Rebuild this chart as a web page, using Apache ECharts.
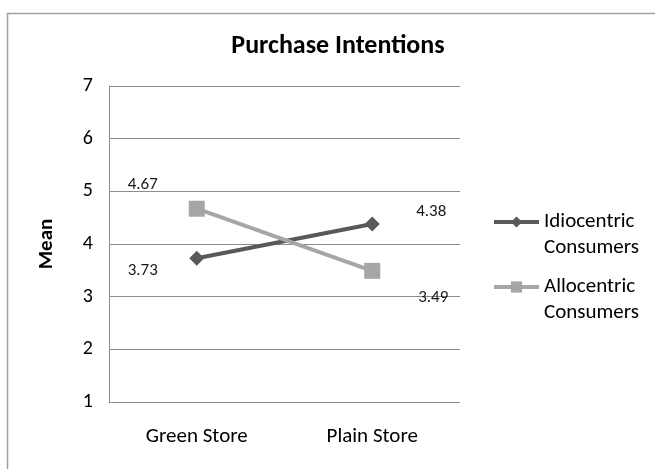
<!DOCTYPE html>
<html><head><meta charset="utf-8">
<script src="https://cdn.jsdelivr.net/npm/echarts@6/dist/echarts.min.js"></script>
<style>html,body{margin:0;padding:0;background:#fff}#c{width:655px;height:469px}</style>
</head><body><div id="c"></div>
<script>
const categories = ["Green Store", "Plain Store"];
const idiocentric = [3.73, 4.38];
const allocentric = [4.67, 3.49];
const yTicks = [1, 2, 3, 4, 5, 6, 7];
const seriesNames = ["Idiocentric\nConsumers", "Allocentric\nConsumers"];

const idioLabelOffsets = [[-54, 13], [59, -12]];
const alloLabelOffsets = [[-54, -24], [61, 27]];
const FONT = "Carlito, Lato, 'Liberation Sans', sans-serif";

function withLabels(vals, offs) {
  return vals.map((v, i) => ({ value: v, label: { offset: offs[i] } }));
}
const chart = echarts.init(document.getElementById('c'), null, { renderer: 'canvas' });
chart.setOption({
  animation: false,
  backgroundColor: '#fff',
  textStyle: { fontFamily: FONT },
  title: {
    text: 'Purchase Intentions', left: 333, top: 28, textAlign: 'center',
    textStyle: { fontFamily: FONT, fontSize: 26, fontWeight: 'bold', color: '#000' }
  },
  graphic: [{
    type: 'rect', shape: { x: 7.5, y: 13.5, width: 700, height: 500 },
    style: { fill: 'none', stroke: '#a0a0a0', lineWidth: 1.5 }, silent: true
  }],
  grid: { left: 109, right: 195, top: 86, bottom: 67, containLabel: false },
  legend: {
    orient: 'vertical', left: 492, top: 183, padding: 0,
    itemWidth: 45, itemHeight: 14, itemGap: -13,
    data: seriesNames,
    lineStyle: { width: 4 },
    formatter: name => ' \n' + name,
    textStyle: { fontFamily: FONT, fontSize: 21, color: '#000', lineHeight: 26 }
  },
  xAxis: {
    type: 'category', data: categories, boundaryGap: true,
    axisLine: { show: false }, axisTick: { show: false },
    axisLabel: { margin: 24, fontSize: 21, color: '#000', fontFamily: FONT }
  },
  yAxis: {
    type: 'value', min: yTicks[0], max: yTicks[yTicks.length - 1], interval: 1,
    name: 'Mean', nameLocation: 'middle', nameGap: 52, nameRotate: 90,
    nameTextStyle: { fontFamily: FONT, fontSize: 21, fontWeight: 'bold', color: '#000' },
    axisLine: { show: true, lineStyle: { color: '#8c8c8c', width: 1 } },
    axisTick: { show: false },
    axisLabel: { margin: 16, fontSize: 20, color: '#000', fontFamily: FONT },
    splitLine: { show: true, lineStyle: { color: '#8c8c8c', width: 1 } }
  },
  series: [
    {
      name: seriesNames[0], type: 'line', data: withLabels(idiocentric, idioLabelOffsets),
      symbol: 'diamond', symbolSize: 15,
      lineStyle: { color: '#595959', width: 4 }, itemStyle: { color: '#595959' },
      label: { show: true, position: 'inside', fontSize: 17, color: '#1a1a1a', fontFamily: FONT,
               formatter: p => p.value.toFixed(2) }
    },
    {
      name: seriesNames[1], type: 'line', data: withLabels(allocentric, alloLabelOffsets),
      symbol: 'rect', symbolSize: 16,
      lineStyle: { color: '#a6a6a6', width: 4 }, itemStyle: { color: '#a6a6a6' },
      label: { show: true, position: 'inside', fontSize: 17, color: '#1a1a1a', fontFamily: FONT,
               formatter: p => p.value.toFixed(2) }
    }
  ]
});
</script></body></html>
